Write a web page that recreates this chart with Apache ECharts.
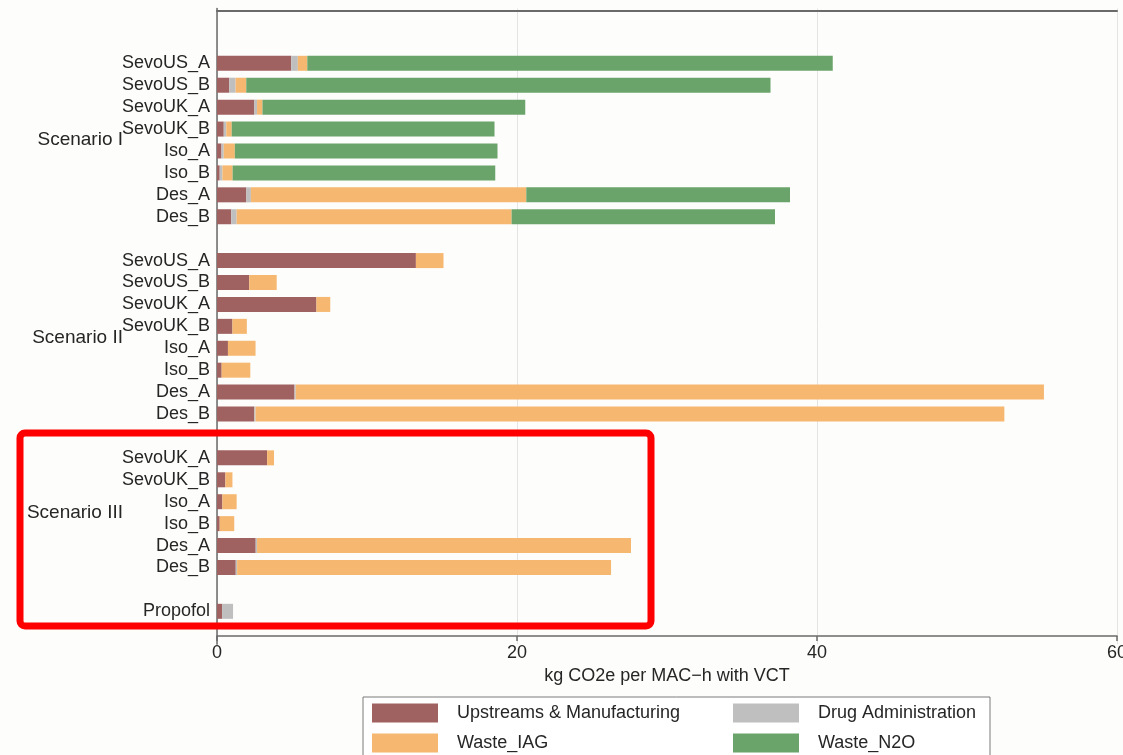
<!DOCTYPE html>
<html>
<head>
<meta charset="utf-8">
<script src="https://cdn.jsdelivr.net/npm/echarts@6/dist/echarts.min.js"></script>
<style>
html,body{margin:0;padding:0;background:#fdfdfb;overflow:hidden;}
#chart{width:1123px;height:755px;}
</style>
</head>
<body>
<div id="chart"></div>
<script>
// ---- data ----
const scenarioNames = ['Scenario I', 'Scenario II', 'Scenario III'];
const catsI   = ['SevoUS_A','SevoUS_B','SevoUK_A','SevoUK_B','Iso_A','Iso_B','Des_A','Des_B'];
const catsII  = ['SevoUS_A','SevoUS_B','SevoUK_A','SevoUK_B','Iso_A','Iso_B','Des_A','Des_B'];
const catsIII = ['SevoUK_A','SevoUK_B','Iso_A','Iso_B','Des_A','Des_B'];
const catsIV  = ['Propofol'];

const seriesNames = ['Upstreams & Manufacturing', 'Drug Administration', 'Waste_IAG', 'Waste_N2O'];

const upstreamI = [4.95, 0.82, 2.49, 0.45, 0.30, 0.18, 1.96, 0.95];
const drugI     = [0.44, 0.42, 0.18, 0.17, 0.15, 0.18, 0.30, 0.36];
const iagI      = [0.63, 0.71, 0.36, 0.36, 0.74, 0.68, 18.36, 18.33];
const n2oI      = [35.03, 34.95, 17.52, 17.52, 17.51, 17.51, 17.58, 17.56];

const upstreamII = [13.26, 2.15, 6.63, 1.03, 0.73, 0.31, 5.17, 2.49];
const drugII     = [0, 0, 0, 0, 0, 0, 0.08, 0.08];
const iagII      = [1.84, 1.83, 0.92, 0.96, 1.84, 1.91, 49.88, 49.92];
const n2oII      = [0, 0, 0, 0, 0, 0, 0, 0];

const upstreamIII = [3.34, 0.56, 0.36, 0.18, 2.58, 1.25];
const drugIII     = [0, 0, 0, 0, 0.09, 0.09];
const iagIII      = [0.46, 0.47, 0.95, 0.97, 24.93, 24.93];
const n2oIII      = [0, 0, 0, 0, 0, 0];

const upstreamIV = [0.34];
const drugIV     = [0.73];
const iagIV      = [0];
const n2oIV      = [0];

const xTicks = [0, 20, 40, 60];
const colors = ['#a06260', '#bfbfbf', '#f6b870', '#6aa46a'];

// ---- build rows (blank rows between groups) ----
function rows(a, b, c, d) {
  return [null, null].concat(a, [null], b, [null], c, [null], d, [null]);
}
const categories = rows(catsI, catsII, catsIII, catsIV).map(v => v === null ? '' : v);
const seriesData = [
  rows(upstreamI, upstreamII, upstreamIII, upstreamIV),
  rows(drugI, drugII, drugIII, drugIV),
  rows(iagI, iagII, iagIII, iagIV),
  rows(n2oI, n2oII, n2oIII, n2oIV)
];
const startI = 2, startII = startI + catsI.length + 1, startIII = startII + catsII.length + 1;
const scenarioCenters = [
  startI + (catsI.length - 1) / 2,
  startII + (catsII.length - 1) / 2,
  startIII + (catsIII.length - 1) / 2
];

const font = "'Liberation Sans', Arial, sans-serif";
const txt = '#262626';

const chart = echarts.init(document.getElementById('chart'), null, {renderer: 'canvas', width: 1123, height: 755});
chart.setOption({
  backgroundColor: '#fdfdfb',
  animation: false,
  textStyle: {fontFamily: font, color: txt},
  grid: {left: 217, width: 900, top: 8.5, bottom: 110.8, containLabel: false, outerBoundsMode: 'none'},
  xAxis: [{
    type: 'value', min: 0, max: 60, interval: 20, position: 'bottom', offset: -8.2,
    name: 'kg CO2e per MAC\u2212h with VCT', nameLocation: 'middle', nameGap: 30,
    nameTextStyle: {fontSize: 18, color: txt, fontFamily: font},
    axisLine: {show: true, onZero: false, lineStyle: {color: '#6a6a6a', width: 1.5}},
    axisTick: {show: true, length: 5, lineStyle: {color: '#6a6a6a', width: 1.5}},
    axisLabel: {fontSize: 18, color: txt, margin: 8, fontFamily: font},
    splitLine: {show: true, lineStyle: {color: '#e4e4e4', width: 1}}
  }, {
    type: 'value', min: 0, max: 60, position: 'top', offset: -2,
    axisLine: {show: true, onZero: false, lineStyle: {color: '#6a6a6a', width: 2}},
    axisTick: {show: false}, axisLabel: {show: false}, splitLine: {show: false}
  }],
  yAxis: [{
    type: 'category', inverse: true, data: categories,
    axisLine: {show: true, onZero: false, lineStyle: {color: '#6a6a6a', width: 1.5}},
    axisTick: {show: false},
    axisLabel: {interval: 0, fontSize: 18, color: txt, margin: 7, fontFamily: font},
    splitLine: {show: false}
  }, {
    type: 'value', inverse: true, min: -0.5, max: categories.length - 0.5,
    position: 'left', offset: 90,
    axisLine: {show: false, onZero: false}, axisTick: {show: false}, splitLine: {show: false},
    axisLabel: {
      fontSize: 19, color: txt, margin: 4, fontFamily: font,
      customValues: scenarioCenters,
      formatter: function (v) {
        const i = scenarioCenters.findIndex(c => Math.abs(c - v) < 1e-6);
        return i >= 0 ? scenarioNames[i] : '';
      }
    }
  }],
  legend: {
    left: 363, top: 697, width: 612, orient: 'horizontal',
    padding: [6, 9, 6, 9], itemGap: 10, itemWidth: 66, itemHeight: 19,
    icon: 'rect', selectedMode: false,
    borderColor: '#7a7a7a', borderWidth: 1, backgroundColor: '#ffffff',
    textStyle: {fontSize: 18, color: txt, fontFamily: font, lineHeight: 20, padding: [0, 0, 0, 14]},
    data: [
      {name: seriesNames[0], textStyle: {width: 266}},
      {name: seriesNames[1], textStyle: {width: 163}},
      {name: seriesNames[2], textStyle: {width: 266}},
      {name: seriesNames[3], textStyle: {width: 163}}
    ]
  },
  series: seriesNames.map((n, i) => ({
    name: n, type: 'bar', stack: 'total', barWidth: 15,
    xAxisIndex: 0, yAxisIndex: 0,
    itemStyle: {color: colors[i]},
    data: seriesData[i]
  })),
  graphic: [{
    type: 'rect', z: 100,
    shape: {x: 20, y: 433, width: 631, height: 193, r: 5},
    style: {fill: 'none', stroke: '#ff0000', lineWidth: 7}
  }]
});
</script>
</body>
</html>
